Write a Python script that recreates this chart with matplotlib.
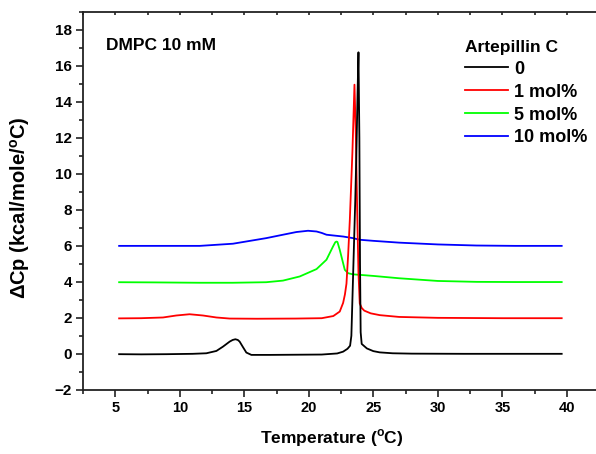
import matplotlib
matplotlib.use("Agg")
import matplotlib.pyplot as plt
from matplotlib.ticker import MultipleLocator

plt.rcParams['font.family'] = ['Liberation Sans', 'DejaVu Sans']
plt.rcParams['font.weight'] = 'bold'
plt.rcParams['mathtext.fontset'] = 'custom'
plt.rcParams['mathtext.rm'] = 'Liberation Sans:bold'
plt.rcParams['mathtext.bf'] = 'Liberation Sans:bold'

# ---- data ----
x_0 = [5.3, 7, 9, 11, 12.06, 12.84, 13.35, 13.87, 14.1, 14.31, 14.5, 14.64, 14.9, 15.16, 15.55,
       17, 19, 21, 22.2, 22.66, 23.0, 23.2, 23.3, 23.4, 23.5, 23.6, 23.7, 23.78, 23.85,
       23.92, 23.97, 24.02, 24.1, 24.5, 25.0, 25.5, 26.5, 28, 32, 36, 39.6]
y_0 = [-0.02, -0.03, -0.02, 0.0, 0.03, 0.16, 0.40, 0.68, 0.77, 0.81, 0.77, 0.68, 0.37, 0.07, -0.06,
       -0.06, -0.05, -0.04, 0.02, 0.12, 0.28, 0.45, 1.0, 3.5, 6.0, 8.5, 11.5, 14.5, 16.76,
       12.0, 5.0, 1.2, 0.55, 0.3, 0.15, 0.08, 0.03, 0.01, 0.0, 0.0, 0.0]

x_1 = [5.3, 7, 8.7, 9.73, 10.76, 11.8, 12.84, 13.87, 16, 19, 21, 21.9, 22.4, 22.66, 22.8,
       22.92, 23.05, 23.18, 23.38, 23.54, 23.65, 23.75, 23.85, 23.95, 24.1, 24.3, 24.8, 25.5,
       27, 30, 35, 39.6]
y_1 = [1.97, 1.98, 2.02, 2.13, 2.2, 2.13, 2.02, 1.96, 1.95, 1.96, 1.98, 2.1, 2.35, 2.83, 3.3,
       3.9, 5.5, 7.45, 11.2, 14.96, 12.0, 8.0, 4.5, 2.8, 2.55, 2.4, 2.25, 2.15,
       2.05, 2.0, 1.98, 1.98]

x_5 = [5.3, 8, 11.5, 14.1, 16.7, 18.0, 19.3, 20.6, 21.37, 21.88, 22.05, 22.14, 22.22, 22.4,
       22.79, 23.05, 23.4, 23.95, 25, 27, 30, 33, 36, 39.6]
y_5 = [3.98, 3.97, 3.95, 3.95, 3.98, 4.07, 4.3, 4.71, 5.23, 5.97, 6.2, 6.24, 6.22, 5.78,
       4.67, 4.48, 4.42, 4.39, 4.33, 4.2, 4.05, 4.0, 3.99, 3.99]

x_10 = [5.3, 8, 11.55, 14.12, 16.7, 18.0, 19.04, 19.94, 20.6, 21.0, 21.37, 21.88, 22.66,
        23.43, 23.95, 25, 27, 30, 33, 36, 39.6]
y_10 = [6.0, 6.0, 6.0, 6.12, 6.43, 6.62, 6.77, 6.84, 6.8, 6.72, 6.62, 6.58, 6.52,
        6.43, 6.34, 6.28, 6.18, 6.08, 6.02, 6.0, 6.0]

labels = ['0', '1 mol%', '5 mol%', '10 mol%']
colors = ['#000000', '#FF0000', '#00FF00', '#0000FF']
x_ticks = [5, 10, 15, 20, 25, 30, 35, 40]
y_ticks = [-2, 0, 2, 4, 6, 8, 10, 12, 14, 16, 18]

# ---- figure ----
W, H = 596, 454
fig = plt.figure(figsize=(W / 100, H / 100), dpi=100)
ax = fig.add_axes([83 / W, 1 - 389.8 / H, 1 - 83 / W, (389.8 - 12) / H])

series = [(x_0, y_0), (x_1, y_1), (x_5, y_5), (x_10, y_10)]
zs = [5, 4, 3, 2]
for (xs, ys), lab, c, z in zip(series, labels, colors, zs):
    ax.plot(xs, ys, color=c, lw=1.3, label=lab, zorder=z)

ax.set_xlim(2.5, 42.26)
ax.set_ylim(-2, 19)
ax.set_xticks(x_ticks)
ax.set_yticks(y_ticks)
ax.xaxis.set_minor_locator(MultipleLocator(2.5))
ax.yaxis.set_minor_locator(MultipleLocator(1))

ax.spines['right'].set_visible(False)
for s in ['left', 'bottom', 'top']:
    ax.spines[s].set_linewidth(1.3)
    ax.spines[s].set_color('#222222')

ax.tick_params(axis='both', which='major', direction='out', length=5, width=1.2,
               pad=3, color='#222222')
ax.tick_params(axis='both', which='minor', direction='out', length=3, width=1.2, color='#222222')
ax.tick_params(axis='x', labelsize=10.5)
ax.tick_params(axis='y', labelsize=11)
ax.tick_params(axis='x', which='both', top=True, labeltop=False)
for lab in ax.get_xticklabels() + ax.get_yticklabels():
    lab.set_fontweight('bold')
# tiny inward marks on the top spine
for t in ax.xaxis.get_major_ticks() + ax.xaxis.get_minor_ticks():
    t.tick2line.set_marker(3)
    t.tick2line.set_markersize(2)

fig.text(332 / W, 1 - 438 / H, r'Temperature ($^\mathbf{o}$C)', ha='center', va='center',
         fontsize=12.5, fontweight='bold')
fig.text(20 / W, 1 - 208 / H, r'$\Delta$Cp (kcal/mole/$^\mathbf{o}$C)', ha='center', va='center',
         rotation=90, fontsize=14.5, fontweight='bold')
fig.text(106 / W, 1 - 45 / H, 'DMPC 10 mM', ha='left', va='center', fontsize=12.5, fontweight='bold')

leg = ax.legend(loc='upper left', bbox_to_anchor=(456 / W, 1 - 31 / H), bbox_transform=fig.transFigure,
                frameon=False, title='Artepillin C', alignment='left', borderpad=0,
                handlelength=2.4, handletextpad=0.3, labelspacing=0.33,
                prop={'weight': 'bold', 'size': 13},
                title_fontproperties={'weight': 'bold', 'size': 12.5})
leg._legend_box.sep = 4

fig.savefig('out.png', dpi=100)
